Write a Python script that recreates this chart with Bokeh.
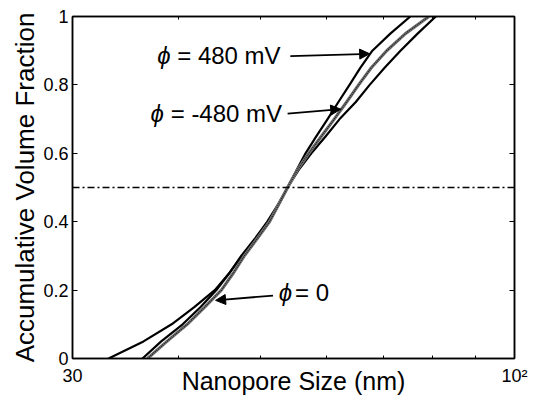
from bokeh.plotting import figure
from bokeh.models import (FixedTicker, Span, Label, Arrow, NormalHead,
                          LinearAxis, LogAxis, Range1d)
from bokeh.embed import file_html
from bokeh.resources import INLINE

# ---- data ----
frac = [0, 0.05, 0.1, 0.15, 0.2, 0.25, 0.3, 0.35, 0.4, 0.45, 0.5, 0.55, 0.6, 0.65,
        0.7, 0.75, 0.8, 0.85, 0.9, 0.95, 1.0]
size_pos480 = [36.3, 38.2, 40.5, 42.5, 44.4, 46.0, 47.5, 49.3, 51.0, 52.5, 53.9, 55.2,
               56.6, 58.3, 60.1, 61.9, 63.8, 65.7, 67.9, 71.3, 75.3]
size_zero = [36.8, 38.8, 41.0, 43.0, 45.0, 46.5, 47.9, 49.6, 51.3, 52.6, 53.9, 55.3,
             57.1, 59.1, 61.2, 63.3, 65.4, 67.7, 70.6, 74.3, 79.2]
size_neg480 = [33.1, 36.4, 39.3, 41.8, 44.2, 46.0, 47.6, 49.5, 51.3, 52.6, 53.9, 55.5,
               57.5, 59.8, 62.1, 64.9, 67.4, 70.2, 73.3, 76.8, 80.7]
half_line = 0.5

x_ticks = [30, 100]
x_tick_labels = {30: "30", 100: "10²"}
x_minor = [40, 50, 60, 70, 80, 90]
y_ticks = [0, 0.2, 0.4, 0.6, 0.8, 1.0]
y_tick_labels = {0: "0", 0.2: "0.2", 0.4: "0.4", 0.6: "0.6", 0.8: "0.8", 1.0: "1"}

FONT = "Liberation Sans"

p = figure(width=535, height=398, x_axis_type="log",
           x_range=Range1d(30, 100), y_range=Range1d(0, 1),
           output_backend="svg", toolbar_location=None,
           min_border_left=72, min_border_right=21,
           min_border_top=16, min_border_bottom=40)
p.background_fill_color = "white"
p.border_fill_color = "white"
p.grid.visible = False
p.outline_line_color = "black"
p.outline_line_width = 1.5

# bottom x axis
xa = p.xaxis[0]
xa.ticker = FixedTicker(ticks=x_ticks, minor_ticks=x_minor)
xa.major_label_overrides = x_tick_labels
xa.major_tick_in = 5
xa.major_tick_out = 0
xa.minor_tick_in = 3
xa.minor_tick_out = 0
xa.major_label_standoff = 7
xa.major_label_text_font = FONT
xa.major_label_text_font_size = "18px"
xa.major_label_text_color = "black"
xa.axis_line_color = "black"
xa.axis_line_width = 1.5
xa.axis_label = "Nanopore Size (nm)"
xa.axis_label_text_font = FONT
xa.axis_label_text_font_size = "25px"
xa.axis_label_text_font_style = "normal"
xa.axis_label_text_color = "black"
xa.axis_label_standoff = -22

# left y axis
ya = p.yaxis[0]
ya.ticker = FixedTicker(ticks=y_ticks)
ya.major_label_overrides = y_tick_labels
ya.major_tick_in = 5
ya.major_tick_out = 0
ya.minor_tick_line_color = None
ya.major_label_standoff = 4
ya.major_label_text_font = FONT
ya.major_label_text_font_size = "18px"
ya.major_label_text_color = "black"
ya.axis_line_color = "black"
ya.axis_line_width = 1.5
ya.axis_label = "Accumulative Volume Fraction"
ya.axis_label_text_font = FONT
ya.axis_label_text_font_size = "26px"
ya.axis_label_text_font_style = "normal"
ya.axis_label_standoff = 0
ya.axis_label_text_color = "black"

# top & right mirror axes (ticks only)
top = LogAxis(ticker=FixedTicker(ticks=x_ticks, minor_ticks=x_minor),
              major_tick_in=5, major_tick_out=0, minor_tick_in=3, minor_tick_out=0,
              major_label_text_font_size="1px", major_label_text_color=None,
              major_label_standoff=0,
              axis_line_color="black", axis_line_width=1.5)
p.add_layout(top, "above")
right = LinearAxis(ticker=FixedTicker(ticks=y_ticks),
                   major_tick_in=5, major_tick_out=0, minor_tick_line_color=None,
                   major_label_text_font_size="1px", major_label_text_color=None,
                   major_label_standoff=0,
                   axis_line_color="black", axis_line_width=1.5)
p.add_layout(right, "right")

# curves
p.line(size_neg480, frac, line_color="black", line_width=2.2, line_join="round")
p.line(size_pos480, frac, line_color="black", line_width=2.2, line_join="round")
p.line(size_zero, frac, line_color="#777777", line_width=3.2, line_join="round")
p.line(size_zero, frac, line_color="#222222", line_width=1.6, line_dash="1 1")

# dash-dot 50% line
p.add_layout(Span(location=half_line, dimension="width", line_color="black",
                  line_width=1.6, line_dash="7 3 2 3"))

# annotations: italic phi + upright remainder
phi_kw = dict(text="ϕ", text_font=FONT, text_font_size="24px", text_color="black",
              text_font_style="italic", text_baseline="middle", text_align="left")
rest_kw = dict(text_font=FONT, text_font_size="24px", text_color="black",
               text_baseline="middle", text_align="left")
p.add_layout(Label(x=37.8, y=0.886, **phi_kw))
p.add_layout(Label(x=39.9, y=0.886, text="= 480 mV", **rest_kw))
p.add_layout(Label(x=37.1, y=0.716, **phi_kw))
p.add_layout(Label(x=39.2, y=0.716, text="= -480 mV", **rest_kw))
p.add_layout(Label(x=52.6, y=0.193, **phi_kw))
p.add_layout(Label(x=55.0, y=0.193, text="= 0", **rest_kw))

head_kw = dict(size=10, fill_color="black", line_color="black")
p.add_layout(Arrow(end=NormalHead(**head_kw), x_start=54.3, y_start=0.884,
                   x_end=67.4, y_end=0.891, line_width=1.8, line_color="black"))
p.add_layout(Arrow(end=NormalHead(**head_kw), x_start=53.9, y_start=0.716,
                   x_end=62.3, y_end=0.729, line_width=1.8, line_color="black"))
p.add_layout(Arrow(end=NormalHead(**head_kw), x_start=51.8, y_start=0.184,
                   x_end=44.3, y_end=0.170, line_width=1.8, line_color="black"))

open("out.html", "w").write(file_html(p, INLINE))
